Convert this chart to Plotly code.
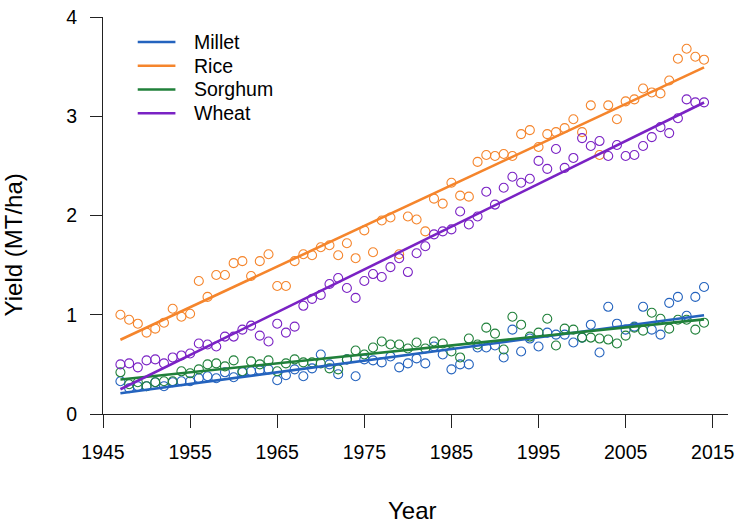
import numpy as np
import plotly.graph_objects as go

years = list(range(1947, 2015))

rice = [1.00, 0.95, 0.91, 0.82, 0.86, 0.92, 1.06, 0.98, 1.01, 1.34,
        1.18, 1.40, 1.40, 1.52, 1.54, 1.39, 1.54, 1.61, 1.29, 1.29,
        1.54, 1.61, 1.60, 1.68, 1.70, 1.60, 1.72, 1.57, 1.85, 1.63,
        1.95, 1.98, 1.61, 1.99, 1.96, 1.84, 2.17, 2.12, 2.33, 2.20,
        2.19, 2.54, 2.61, 2.60, 2.62, 2.60, 2.82, 2.86, 2.69, 2.82,
        2.84, 2.88, 2.97, 2.84, 3.11, 2.61, 3.11, 2.97, 3.15, 3.17,
        3.28, 3.24, 3.23, 3.36, 3.58, 3.68, 3.60, 3.57]

wheat = [0.50, 0.51, 0.47, 0.54, 0.55, 0.51, 0.57, 0.59, 0.61, 0.71,
         0.70, 0.68, 0.78, 0.78, 0.85, 0.89, 0.79, 0.73, 0.91, 0.82,
         0.88, 1.09, 1.16, 1.20, 1.31, 1.37, 1.27, 1.17, 1.34, 1.41,
         1.38, 1.48, 1.57, 1.43, 1.62, 1.69, 1.81, 1.84, 1.86, 2.04,
         1.91, 1.99, 2.24, 2.11, 2.28, 2.39, 2.33, 2.37, 2.55, 2.47,
         2.67, 2.48, 2.58, 2.78, 2.70, 2.75, 2.60, 2.71, 2.60, 2.61,
         2.70, 2.79, 2.89, 2.83, 2.98, 3.17, 3.14, 3.14]

millet = [0.33, 0.26, 0.28, 0.28, 0.32, 0.28, 0.32, 0.33, 0.33, 0.36,
          0.38, 0.36, 0.42, 0.37, 0.42, 0.43, 0.44, 0.45, 0.34, 0.39,
          0.45, 0.38, 0.46, 0.60, 0.50, 0.40, 0.55, 0.38, 0.55, 0.54,
          0.52, 0.58, 0.47, 0.51, 0.56, 0.51, 0.68, 0.60, 0.45, 0.50,
          0.50, 0.67, 0.67, 0.69, 0.57, 0.85, 0.63, 0.76, 0.68, 0.82,
          0.80, 0.80, 0.72, 0.77, 0.90, 0.62, 1.08, 0.91, 0.85, 0.88,
          1.08, 0.85, 0.80, 1.12, 1.18, 0.99, 1.18, 1.28]

sorghum = [0.42, 0.30, 0.32, 0.28, 0.32, 0.33, 0.33, 0.43, 0.41, 0.45,
           0.50, 0.51, 0.48, 0.54, 0.43, 0.53, 0.50, 0.54, 0.43, 0.51,
           0.55, 0.52, 0.52, 0.51, 0.46, 0.45, 0.55, 0.64, 0.60, 0.67,
           0.73, 0.70, 0.70, 0.66, 0.72, 0.66, 0.73, 0.71, 0.63, 0.57,
           0.76, 0.70, 0.87, 0.81, 0.65, 0.98, 0.90, 0.78, 0.82, 0.96,
           0.69, 0.86, 0.85, 0.77, 0.77, 0.76, 0.75, 0.71, 0.79, 0.87,
           0.84, 1.02, 0.96, 0.86, 0.95, 0.95, 0.85, 0.92]

series_names = ["Millet", "Rice", "Sorghum", "Wheat"]
series_values = [millet, rice, sorghum, wheat]
colors = ["#2463BE", "#F5852C", "#20803A", "#7A22C4"]

x_ticks = [1945, 1955, 1965, 1975, 1985, 1995, 2005, 2015]
y_ticks = [0, 1, 2, 3, 4]

FONT = "Liberation Sans, Arial, Helvetica, sans-serif"

# plot area in pixels (for layout placement of titles / legend only)
L, R, T, B = 103, 733, 6, 414
W, H = 740, 524


def px_x(p):
    return (p - L) / (R - L)


def px_y(p):
    return (B - p) / (B - T)


fig = go.Figure()

yrs = np.array(years, dtype=float)
for name, vals, col in zip(series_names, series_values, colors):
    fig.add_trace(go.Scatter(
        x=years, y=vals, mode="markers", showlegend=False, name=name,
        marker=dict(symbol="circle-open", size=9, color=col,
                    line=dict(width=1.1, color=col)),
        hoverinfo="skip"))

for name, vals, col in zip(series_names, series_values, colors):
    slope, intercept = np.polyfit(yrs, np.array(vals), 1)
    fx = [years[0], years[-1]]
    fy = [intercept + slope * v for v in fx]
    fig.add_trace(go.Scatter(
        x=fx, y=fy, mode="lines", name=name, showlegend=False,
        line=dict(color=col, width=2.6), hoverinfo="skip"))

# legend drawn as layout decorations
shapes = []
annotations = []
for i, (name, col) in enumerate(zip(series_names, colors)):
    ypx = 31.7 + 24.4 * i
    shapes.append(dict(type="line", xref="paper", yref="paper",
                       x0=px_x(138), x1=px_x(176), y0=px_y(ypx), y1=px_y(ypx),
                       line=dict(color=col, width=2.6)))
    annotations.append(dict(text=name, xref="paper", yref="paper",
                            x=px_x(193), y=px_y(ypx), xanchor="left", yanchor="middle",
                            showarrow=False, font=dict(size=19.5, family=FONT, color="black")))

annotations.append(dict(text="Year", xref="paper", yref="paper", x=px_x(415), y=px_y(513),
                        xanchor="center", yanchor="middle", showarrow=False,
                        font=dict(size=24, family=FONT, color="black")))
annotations.append(dict(text="Yield (MT/ha)", xref="paper", yref="paper", x=px_x(13), y=px_y(240),
                        xanchor="center", yanchor="middle", textangle=-90, showarrow=False,
                        font=dict(size=24, family=FONT, color="black")))

fig.update_layout(
    width=W, height=H,
    margin=dict(l=L, r=W - R, t=T, b=H - B),
    paper_bgcolor="white", plot_bgcolor="white",
    font=dict(family=FONT, color="black", size=19.5),
    showlegend=False,
    xaxis=dict(
        range=[1945, 2016.75], tickvals=x_ticks, ticktext=[str(v) for v in x_ticks],
        showgrid=False, zeroline=False, showline=True, linecolor="#222", linewidth=1,
        ticks="outside", ticklen=13, tickwidth=1, tickcolor="#222",
        tickfont=dict(size=19.5, family=FONT), ticklabelstandoff=8,
        ticklabeloverflow="allow"),
    yaxis=dict(
        range=[0, 4], tickvals=y_ticks, ticktext=[str(v) for v in y_ticks],
        showgrid=False, zeroline=False, showline=True, linecolor="#222", linewidth=1,
        ticks="outside", ticklen=12, tickwidth=1, tickcolor="#222",
        tickfont=dict(size=19.5, family=FONT), ticklabelstandoff=9,
        ticklabeloverflow="allow"),
    shapes=shapes,
    annotations=annotations,
)

fig.write_html("out.html", config={"displayModeBar": False},
               post_script="document.body.style.margin='0';document.body.style.overflow='hidden';")
